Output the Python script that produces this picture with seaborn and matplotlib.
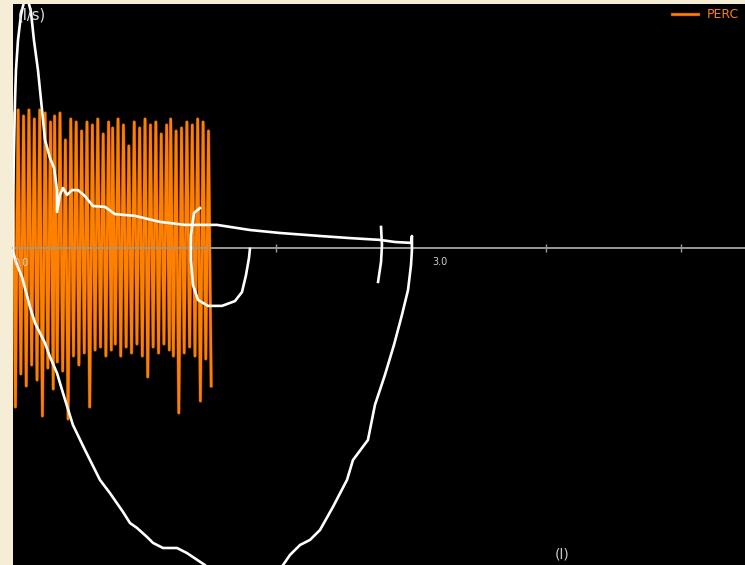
import matplotlib
matplotlib.use("Agg")
import matplotlib.pyplot as plt
import matplotlib.patheffects as pe
import seaborn as sns

# main forced loop (volume in l, flow in l/s)
loop_vol = [0.052, 0.052, 0.059, 0.067, 0.074, 0.089, 0.111, 0.133, 0.163, 0.185,
            0.207, 0.237, 0.267, 0.289, 0.326, 0.356, 0.378, 0.378, 0.400, 0.422,
            0.452, 0.489, 0.533, 0.585, 0.644, 0.733, 0.807, 0.956, 1.141, 1.326,
            1.563, 1.807, 2.030, 2.326, 2.548, 2.770, 2.881, 3.000, 3.007, 3.007,
            3.000, 2.978, 2.933, 2.874, 2.807, 2.733, 2.681, 2.570, 2.526, 2.422,
            2.326, 2.252, 2.178, 2.104, 2.052, 1.956, 1.733, 1.548, 1.474, 1.341,
            1.267, 1.163, 1.089, 1.044, 0.970, 0.919, 0.867, 0.770, 0.696, 0.585,
            0.496, 0.430, 0.378, 0.326, 0.289, 0.215, 0.178, 0.119, 0.074, 0.052]
loop_flow = [-0.07, 1.60, 3.27, 4.93, 5.93, 6.93, 7.77, 8.20, 8.27, 7.87,
             6.93, 5.93, 4.60, 3.60, 3.00, 2.67, 1.93, 1.20, 1.77, 2.00,
             1.77, 1.93, 1.93, 1.73, 1.40, 1.37, 1.13, 1.07, 0.87, 0.77,
             0.77, 0.60, 0.50, 0.40, 0.33, 0.27, 0.20, 0.17, 0.40, -0.07,
             -0.57, -1.40, -2.23, -3.23, -4.23, -5.23, -6.40, -7.07, -7.73, -8.63,
             -9.40, -9.73, -9.90, -10.23, -10.57, -11.07, -11.27, -11.00, -10.57, -10.17,
             -10.00, -10.00, -9.83, -9.63, -9.33, -9.17, -8.80, -8.17, -7.73, -6.73,
             -5.90, -4.95, -4.17, -3.63, -3.17, -2.50, -1.97, -0.97, -0.47, -0.13]

# second (short) loop
loop2_vol = [1.437, 1.393, 1.370, 1.370, 1.385, 1.422, 1.496, 1.600, 1.696, 1.748, 1.778, 1.800, 1.807]
loop2_flow = [1.33, 1.17, 0.43, -0.40, -1.23, -1.73, -1.93, -1.93, -1.77, -1.47, -0.90, -0.33, -0.03]

# small end mark
mark_vol = [2.778, 2.785, 2.778, 2.756]
mark_flow = [0.70, 0.10, -0.47, -1.13]

# percussive oscillation: volume at each peak / trough and its flow
osc_top_vol = [0.05, 0.09, 0.13, 0.17, 0.21, 0.25, 0.29, 0.33, 0.36, 0.40,
               0.44, 0.48, 0.52, 0.56, 0.60, 0.64, 0.68, 0.72, 0.76, 0.79,
               0.83, 0.87, 0.91, 0.95, 0.99, 1.03, 1.07, 1.11, 1.15, 1.19,
               1.22, 1.26, 1.30, 1.34, 1.38, 1.42, 1.46, 1.50]
osc_bot_vol = [0.07, 0.11, 0.15, 0.19, 0.23, 0.27, 0.31, 0.35, 0.38, 0.42,
               0.46, 0.50, 0.54, 0.58, 0.62, 0.66, 0.70, 0.74, 0.78, 0.81,
               0.85, 0.89, 0.93, 0.97, 1.01, 1.05, 1.09, 1.13, 1.17, 1.21,
               1.24, 1.28, 1.32, 1.36, 1.40, 1.44, 1.48, 1.52]
osc_top_flow = [4.5, 4.6, 4.4, 4.6, 4.3, 4.6, 4.5, 4.2, 4.4, 4.5,
                3.6, 4.3, 4.2, 3.9, 4.2, 4.1, 4.3, 3.8, 4.2, 4.0,
                4.3, 4.1, 3.4, 4.2, 4.0, 4.3, 4.1, 4.2, 3.8, 4.1,
                4.3, 3.9, 4.0, 4.2, 4.1, 4.3, 4.2, 3.9]
osc_bot_flow = [-5.3, -4.2, -4.6, -3.9, -4.4, -5.6, -4.0, -4.7, -3.8, -4.1,
                -5.7, -3.6, -3.9, -3.5, -5.3, -3.4, -3.3, -3.6, -3.4, -3.2,
                -3.6, -3.3, -3.5, -3.2, -3.6, -4.3, -3.3, -3.5, -3.2, -3.4,
                -3.6, -5.5, -3.5, -3.3, -3.6, -5.1, -3.7, -4.6]

osc_vol = [v for pair in zip(osc_top_vol, osc_bot_vol) for v in pair]
osc_flow = [f for pair in zip(osc_top_flow, osc_bot_flow) for f in pair]

fig = plt.figure(figsize=(7.45, 5.65), dpi=100, facecolor="#f5edd5")
ax = fig.add_axes([13 / 745, 0, 732 / 745, 561 / 565])
ax.set_facecolor("black")

ax.axhline(0, color="#9a9a9a", lw=1.2, zorder=1)

sns.lineplot(x=osc_vol, y=osc_flow, sort=False, estimator=None, color="#ff8000",
             lw=1.8, ax=ax, label="PERC", zorder=2)
ax.lines[-1].set_path_effects([pe.Stroke(linewidth=2.5, foreground="#6b3300"), pe.Normal()])
sns.lineplot(x=loop_vol, y=loop_flow, sort=False, estimator=None, color="white",
             lw=1.9, ax=ax, zorder=3)
sns.lineplot(x=loop2_vol, y=loop2_flow, sort=False, estimator=None, color="white",
             lw=1.9, ax=ax, zorder=3)
sns.lineplot(x=mark_vol, y=mark_flow, sort=False, estimator=None, color="white",
             lw=1.9, ax=ax, zorder=3)

ax.set_xlim(0.052, 5.474)
ax.set_ylim(-10.567, 8.133)
ax.set_xlabel("")
ax.set_ylabel("")
for side in ["top", "left", "right"]:
    ax.spines[side].set_visible(False)
ax.spines["bottom"].set_position(("data", 0))
ax.spines["bottom"].set_color("#9a9a9a")
ax.spines["bottom"].set_linewidth(1.2)
ax.set_xticks([1, 2, 3, 4, 5])
ax.set_yticks([])
ax.tick_params(axis="x", direction="inout", length=6, width=1, color="#9a9a9a",
               labelbottom=False)

ax.annotate("0.0", xy=(0, 0), xycoords=("axes fraction", "data"), xytext=(0, -11),
            textcoords="offset points", ha="left", va="center", fontsize=7, color="#d0d0d0")
ax.annotate("3.0", xy=(3, 0), xytext=(21, -10), textcoords="offset points",
            ha="center", va="center", fontsize=7, color="#d0d0d0")
ax.text(0.006, 0.993, "(l/s)", transform=ax.transAxes, ha="left", va="top",
        fontsize=10.5, color="#e0e0e0")
ax.text(4.12, 0.018, "(l)", transform=ax.get_xaxis_transform(), ha="center",
        va="center", fontsize=10, color="#c8c8c8")

ax.legend(loc="upper left", bbox_to_anchor=((672 - 13) / 732, 0.993), frameon=False,
          handlelength=2.1, handletextpad=0.7, borderpad=0, borderaxespad=0,
          fontsize=9, labelcolor="#ff8000")

fig.savefig("out.png", dpi=100, facecolor=fig.get_facecolor())
